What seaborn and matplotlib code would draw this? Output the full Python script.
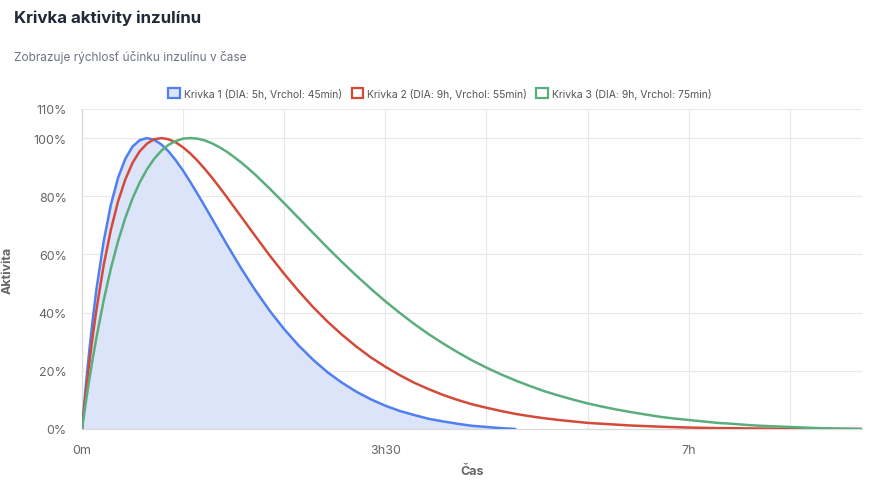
import numpy as np
import pandas as pd
import seaborn as sns
import matplotlib.pyplot as plt
from matplotlib.patches import Patch

# Data (activity in % of peak, time in minutes)
time_early = [0, 2.5, 5, 7.5, 10, 15, 20, 25, 30, 35, 40, 45, 50, 55, 60, 65, 70,
              75, 80, 85, 90, 95, 100, 105, 110, 115, 120]
time_1 = time_early + list(range(130, 310, 10))
time_23 = time_early + list(range(130, 550, 10))

curve_1 = [0, 14.1, 26.7, 38.0, 48.0, 64.5, 77.1, 86.4, 92.9, 97.1, 99.3, 100, 99.4,
           97.8, 95.4, 92.3, 88.8, 84.9, 80.8, 76.6, 72.3, 68.0, 63.7, 59.5, 55.4,
           51.5, 47.7,
           40.6, 34.3, 28.7, 23.8, 19.5, 15.9, 12.8, 10.2, 8.0, 6.2, 4.8, 3.5, 2.6,
           1.8, 1.1, 0.7, 0.3, 0]
curve_2 = [0, 11.7, 22.5, 32.2, 41.0, 56.3, 68.5, 78.3, 85.8, 91.5, 95.5, 98.1, 99.6,
           100, 99.6, 98.5, 96.8, 94.7, 92.2, 89.4, 86.4, 83.2, 79.9, 76.5, 73.1,
           69.7, 66.3,
           59.6, 53.3, 47.4, 41.9, 36.9, 32.4, 28.3, 24.6, 21.4, 18.5, 15.9, 13.7,
           11.7, 10.0, 8.5, 7.3, 6.2, 5.2, 4.4, 3.7, 3.1, 2.6, 2.1, 1.8, 1.5, 1.2,
           1.0, 0.8, 0.65, 0.5, 0.4, 0.3, 0.3, 0.2, 0.15, 0.1, 0.1, 0.06, 0.04,
           0.02, 0.01, 0]
curve_3 = [0, 8.7, 16.8, 24.4, 31.4, 44.2, 55.2, 64.6, 72.6, 79.3, 84.8, 89.3, 92.9,
           95.7, 97.7, 99.0, 99.8, 100, 99.8, 99.2, 98.2, 96.9, 95.4, 93.6, 91.7,
           89.6, 87.4,
           82.6, 77.6, 72.5, 67.4, 62.3, 57.4, 52.7, 48.2, 43.9, 39.9, 36.1, 32.6,
           29.4, 26.4, 23.6, 21.1, 18.8, 16.7, 14.8, 13.0, 11.5, 10.1, 8.8, 7.7,
           6.7, 5.8, 5.0, 4.2, 3.6, 3.1, 2.6, 2.1, 1.8, 1.4, 1.1, 0.9, 0.7, 0.5,
           0.3, 0.2, 0.1, 0]

labels = ["Krivka 1 (DIA: 5h, Vrchol: 45min)",
          "Krivka 2 (DIA: 9h, Vrchol: 55min)",
          "Krivka 3 (DIA: 9h, Vrchol: 75min)"]
colors = ["#4f7ff0", "#d44a3a", "#5aae7e"]

x_ticks = [0, 210, 420]
x_tick_labels = ["0m", "3h30", "7h"]
y_ticks = [0, 20, 40, 60, 80, 100, 110]

df = pd.concat([
    pd.DataFrame({"t": time_1, "a": curve_1, "k": labels[0]}),
    pd.DataFrame({"t": time_23, "a": curve_2, "k": labels[1]}),
    pd.DataFrame({"t": time_23, "a": curve_3, "k": labels[2]}),
])

sns.set_style("white")
plt.rcParams['font.family'] = ['Inter', 'DejaVu Sans']

fig = plt.figure(figsize=(8.76, 4.81), dpi=100)
ax = fig.add_axes([82 / 876, 51 / 481, 780 / 876, 320 / 481])

grid_c = "#e8e8e8"
for gx in range(0, 540, 70):
    ax.axvline(gx, color=grid_c, lw=0.8, zorder=0)
for gy in [20, 40, 60, 80, 100, 110]:
    ax.axhline(gy, color=grid_c, lw=0.8, zorder=0)

ax.fill_between(time_1, curve_1, 0, color="#dbe4f8", zorder=1, lw=0)
sns.lineplot(data=df, x="t", y="a", hue="k", palette=colors, linewidth=1.8,
             ax=ax, legend=False, zorder=3, sort=False)

ax.set_xlim(0, 540)
ax.set_ylim(0, 110)
ax.set_xticks(list(range(0, 540, 70)))
ax.set_xticklabels([x_tick_labels[x_ticks.index(v)] if v in x_ticks else ""
                    for v in range(0, 540, 70)])
ax.set_yticks(y_ticks)
ax.set_yticklabels([f"{v}%" for v in y_ticks])
ax.tick_params(axis="both", colors="#666666", labelsize=9, length=7,
               width=0.8, pad=4)
ax.tick_params(axis="x", color=grid_c)
ax.tick_params(axis="y", color=grid_c)
for s in ["top", "right"]:
    ax.spines[s].set_visible(False)
for s in ["left", "bottom"]:
    ax.spines[s].set_color("#d9d9d9")
    ax.spines[s].set_linewidth(0.9)

ax.set_xlabel("Čas", fontsize=9, fontweight="bold", color="#666666", labelpad=6)
ax.set_ylabel("Aktivita", fontsize=9, fontweight="bold", color="#666666", labelpad=14)

fig.text(14 / 876, 1 - 18 / 481, "Krivka aktivity inzulínu", fontsize=12.2,
         fontweight="bold", color="#1f2937", va="center", ha="left")
fig.text(14 / 876, 1 - 57 / 481, "Zobrazuje rýchlosť účinku inzulínu v čase",
         fontsize=8.5, color="#6b7280", va="center", ha="left")

handles = [Patch(facecolor="#dbe4f8", edgecolor=colors[0], lw=1.6),
           Patch(facecolor="white", edgecolor=colors[1], lw=1.6),
           Patch(facecolor="white", edgecolor=colors[2], lw=1.6)]
leg = fig.legend(handles, labels, loc="center", bbox_to_anchor=(440 / 876, 1 - 94 / 481),
                 ncol=3, frameon=False, fontsize=7.5, handlelength=1.1,
                 handleheight=1.1, handletextpad=0.4, columnspacing=0.9)
for t in leg.get_texts():
    t.set_color("#555555")

fig.savefig("out.png", dpi=100)
